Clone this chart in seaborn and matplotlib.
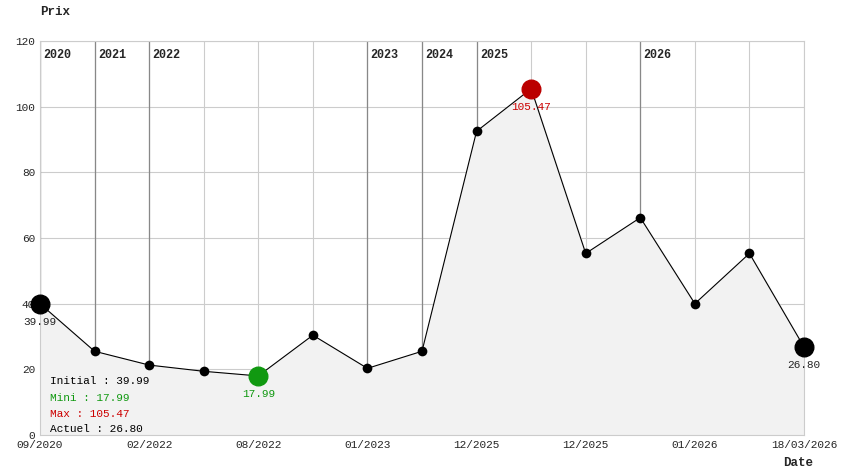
import matplotlib
matplotlib.use("Agg")
import matplotlib.pyplot as plt
import seaborn as sns
import numpy as np

values = [39.99, 25.5, 21.3, 19.4, 17.99, 30.4, 20.3, 25.5, 92.5, 105.47, 55.3, 66.2, 40.0, 55.3, 26.80]
tick_idx = [0, 2, 4, 6, 8, 10, 12, 14]
tick_labels = ["09/2020", "02/2022", "08/2022", "01/2023", "12/2025", "12/2025", "01/2026", "18/03/2026"]
year_idx = [0, 1, 2, 6, 7, 8, 11]
year_labels = ["2020", "2021", "2022", "2023", "2024", "2025", "2026"]

sns.set_style("white")
plt.rcParams['font.family'] = ['Liberation Mono', 'DejaVu Sans Mono']
fig = plt.figure(figsize=(8.44, 4.74), dpi=100)
ax = fig.add_axes([40/844, 1-435/474, 764/844, 394/474])
x = np.arange(len(values))
ax.set_xlim(0, len(values)-1)
ax.set_ylim(0, 120)
for xi in x:
    ax.axvline(xi, color="#cccccc", lw=0.8, zorder=0)
for yv in range(20, 121, 20):
    ax.axhline(yv, color="#cccccc", lw=0.8, zorder=0)
for xi, lab in zip(year_idx, year_labels):
    ax.axvline(xi, color="#888888", lw=0.9, zorder=1)
    ax.text(xi+0.06, 117.5, lab, fontsize=8.5, fontweight="bold", va="top", ha="left")
ax.fill_between(x, values, 0, color="#f2f2f2", zorder=1)
sns.lineplot(x=x, y=values, ax=ax, color="black", lw=0.8, marker="o", markersize=7,
             markeredgewidth=0, zorder=3)
imin, imax = int(np.argmin(values)), int(np.argmax(values))
ax.scatter([0, 14], [values[0], values[14]], s=180, color="black", zorder=4, clip_on=False)
ax.scatter([imin], [values[imin]], s=180, color="#119911", zorder=4, clip_on=False)
ax.scatter([imax], [values[imax]], s=180, color="#bb0000", zorder=4, clip_on=False)
ax.text(0, values[0]-4, f"{values[0]:.2f}", fontsize=8, ha="center", va="top")
ax.text(14, values[14]-4, f"{values[14]:.2f}", fontsize=8, ha="center", va="top")
ax.text(imin, values[imin]-4, f"{values[imin]:.2f}", fontsize=8, ha="center", va="top", color="#119911")
ax.text(imax, values[imax]-4, f"{values[imax]:.2f}", fontsize=8, ha="center", va="top", color="#cc0000")
ax.set_xticks(tick_idx)
ax.set_xticklabels(tick_labels, fontsize=8)
ax.set_yticks(range(0, 121, 20))
ax.tick_params(axis="y", labelsize=8, length=0)
ax.tick_params(axis="x", length=0)
for s in ["top", "right", "left", "bottom"]:
    ax.spines[s].set_color("#cccccc")
lx = 0.18
ax.text(lx, 15.5, f"Initial : {values[0]:.2f}", fontsize=8, color="black")
ax.text(lx, 10.5, f"Mini : {values[imin]:.2f}", fontsize=8, color="#119911")
ax.text(lx, 5.5, f"Max : {values[imax]:.2f}", fontsize=8, color="#cc0000")
ax.text(lx, 0.8, f"Actuel : {values[14]:.2f}", fontsize=8, color="black")
fig.text(40/844, 1-12/474, "Prix", fontsize=9, fontweight="bold", va="center")
fig.text(783/844, 1-463/474, "Date", fontsize=9, fontweight="bold", va="center")
fig.savefig("out.png", dpi=100, facecolor="white")
